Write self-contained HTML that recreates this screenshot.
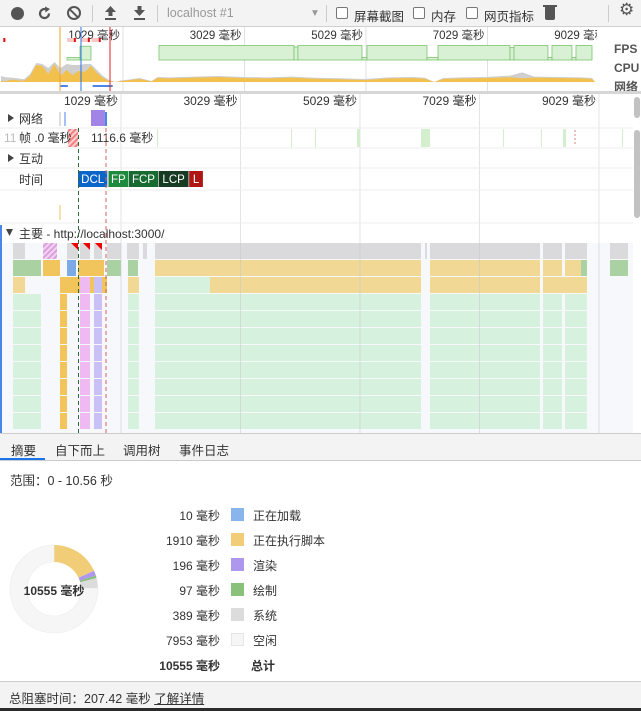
<!DOCTYPE html>
<html><head><meta charset="utf-8">
<style>
*{margin:0;padding:0;box-sizing:border-box}
body{width:641px;height:711px;overflow:hidden;background:#fff;font-family:"Liberation Sans","Noto Sans CJK SC",sans-serif;font-size:12px;color:#333;position:relative}
.abs{position:absolute}
#toolbar{left:0;top:0;width:641px;height:27px;background:#f3f3f3;border-bottom:1px solid #d0d0d0}
.ico{position:absolute;top:6px;color:#555;font-size:14px;line-height:14px}
.sep{position:absolute;top:5px;width:1px;height:17px;background:#ccc}
.cb{position:absolute;top:7px;width:12px;height:12px;border:1px solid #777;border-radius:2px;background:#fff}
.tl{position:absolute;top:6px;font-size:12.5px;color:#333}
#tabs{left:0;top:433px;width:641px;height:28px;background:#f3f3f3;border-top:1px solid #ccc;border-bottom:1px solid #ccc}
.tab{position:absolute;top:6px;font-size:12.5px;color:#333}
.lg{position:absolute;font-size:12px;color:#333;white-space:nowrap}
.val{position:absolute;width:80px;text-align:right;left:140px;white-space:nowrap}
.sw{position:absolute;left:231px;width:13px;height:13px}
#footer{left:0;top:681px;width:641px;height:27px;background:#f3f3f3;border-top:1px solid #ccc}
</style></head><body>

<svg id="chart" class="abs" style="left:0;top:0" width="641" height="433"></svg>

<div id="toolbar" class="abs">
  <div class="abs" style="left:11px;top:7px;width:13px;height:13px;border-radius:50%;background:#555"></div>
  <svg class="abs" style="left:37px;top:6px" width="15" height="15"><path d="M12,7.5 A4.5,4.5 0 1 1 9.5,3.5" fill="none" stroke="#555" stroke-width="2.2"/><path d="M8,0.5 L13,3 L8.5,6.5Z" fill="#555"/></svg>
  <div class="abs" style="left:67px;top:6px;width:14px;height:14px;border:2px solid #555;border-radius:50%"><div class="abs" style="left:4px;top:-1px;width:2px;height:13px;background:#555;transform:rotate(-45deg)"></div></div>
  <div class="sep" style="left:92px"></div>
  <svg class="abs" style="left:104px;top:6px" width="13" height="15"><path d="M6.5,0 L12,6 L8.5,6 L8.5,10 L4.5,10 L4.5,6 L1,6Z" fill="#555"/><rect x="1" y="12" width="11" height="2" fill="#555"/></svg>
  <svg class="abs" style="left:133px;top:6px" width="13" height="15"><path d="M6.5,10 L12,4 L8.5,4 L8.5,0 L4.5,0 L4.5,4 L1,4Z" fill="#555"/><rect x="1" y="12" width="11" height="2" fill="#555"/></svg>
  <div class="sep" style="left:157px"></div>
  <div class="tl" style="left:167px;color:#999">localhost #1</div>
  <div class="tl" style="left:310px;color:#999;font-size:10px;top:8px">▼</div>
  <div class="sep" style="left:326px"></div>
  <div class="cb" style="left:336px"></div><div class="tl" style="left:354px">屏幕截图</div>
  <div class="cb" style="left:413px"></div><div class="tl" style="left:431px">内存</div>
  <div class="cb" style="left:466px"></div><div class="tl" style="left:484px">网页指标</div>
  <div class="abs" style="left:545px;top:7px;width:10px;height:13px;background:#555;border-radius:0 0 2px 2px"></div>
  <div class="abs" style="left:543px;top:5px;width:14px;height:2px;background:#555"></div>
  <div class="sep" style="left:608px"></div>
  <div class="ico" style="left:619px;font-size:17px;top:3px">⚙</div>
</div>

<div id="tabs" class="abs">
  <div class="tab" style="left:11px">摘要</div>
  <div class="abs" style="left:0;top:24px;width:45px;height:2px;background:#1a73e8"></div>
  <div class="tab" style="left:55px">自下而上</div>
  <div class="tab" style="left:123px">调用树</div>
  <div class="tab" style="left:179px">事件日志</div>
</div>

<div class="abs" style="left:10px;top:470px;font-size:12.5px">范围：0 - 10.56 秒</div>

<svg class="abs" style="left:0;top:540px" width="110" height="100" id="donut"></svg>
<div class="abs" style="left:14px;top:582px;width:80px;text-align:center;font-weight:bold;font-size:12px;white-space:nowrap">10555 毫秒</div>

<div id="legend"></div>

<div id="footer" class="abs">
  <div class="abs" style="left:9px;top:6px;font-size:12.5px">总阻塞时间：207.42 毫秒 <span style="text-decoration:underline">了解详情</span></div>
</div>
<div class="abs" style="left:0;top:708px;width:641px;height:3px;background:#2b2b2b"></div>

<script>
// ---- data ----
const tickLabels = ["1029 毫秒","3029 毫秒","5029 毫秒","7029 毫秒","9029 毫秒"];
const tickTimes = [1029,3029,5029,7029,9029];
const fpsStart = [107,321,1621,3844,3909,4963,5045,6033,6214,7399,7465,8024,8090,8419,8485];
const fpsEnd   = [321,502,3844,3909,4963,5045,6033,6214,7399,7465,8024,8090,8419,8485,8749];
const fpsValues= [10,55,58,52,58,10,58,10,58,50,58,10,58,10,58];
const cpuTimes = [-980,-900,-800,-700,-600,-500,-400,-300,-200,-100,0,100,200,300,400,500,600,700,800,900,1000,1100,1300,1500,1600,1800,2200,2600,3000,3400,3800,4200,4600,5000,5400,5800,6000,6150,6300,6600,7000,7400,7600,7800,8200,8600,8750,8800];
const cpuScript= [5,4,12,8,6,30,85,80,40,90,30,60,35,55,50,80,45,20,5,0,5,8,15,3,20,18,22,25,20,18,22,16,14,10,18,20,16,0,15,18,20,24,18,22,20,18,15,0];
const cpuOther = [25,20,10,10,8,10,10,10,30,10,40,30,50,30,40,10,15,10,5,0,3,3,5,2,5,5,5,5,5,5,5,5,5,5,5,5,5,0,5,5,5,8,30,5,5,5,5,0];
const frameStart = [1632,3875,4276,4979,6050,7422,8058,8427,9414];
const frameEnd   = [1650,3890,4290,5029,6201,7437,8073,8477,9430];
const networkStart = [527];
const networkEnd = [761];
const markerNames = ["DCL","FP","FCP","LCP","L"];
const row0 = [[-778,-577,'sys'],[-276,-42,'hatch'],[126,310,'sys'],[343,510,'sys'],[577,711,'sys'],[795,1029,'sys'],[1130,1330,'sys'],[1397,1464,'sys'],[1598,6050,'sys'],[6117,6150,'sys'],[6201,8042,'sys'],[8092,8410,'sys'],[8460,8828,'sys'],[9213,9514,'sys']];
const row1 = [[-778,-310,'paint'],[-276,8,'script'],[126,276,'load'],[310,745,'script'],[795,1029,'paint'],[1146,1314,'paint'],[1598,6050,'scriptL'],[6201,8042,'scriptL'],[8092,8410,'scriptL'],[8460,8728,'scriptL'],[8728,8828,'paint'],[9213,9514,'paint']];
const row2 = [[-778,-577,'scriptL'],[8,343,'script'],[343,510,'pink'],[510,577,'script'],[577,711,'lav'],[711,795,'script'],[1146,1330,'scriptL'],[1598,2519,'idleG'],[2519,6050,'scriptL'],[6201,8042,'scriptL'],[8092,8828,'scriptL']];
const rowRest = [[-778,-310,'idleG'],[8,126,'script'],[343,510,'pink'],[577,711,'lav'],[1146,1330,'idleG'],[1598,6050,'idleG'],[6201,8042,'idleG'],[8092,8410,'idleG'],[8460,8828,'idleG']];
const donutLabels = ["正在加载","正在执行脚本","渲染","绘制","系统","空闲"];
const donutValues = [10,1910,196,97,389,7953];
const donutColors = ["#8ab4ec","#f1cd78","#ad98ee","#88c07c","#dcdcdc","#f6f6f6"];

// ---- scales ----
const xo = t => 60.5 + t*0.06075;   // overview
const xm = t => 59.5 + t*0.05975;   // main
const NS="http://www.w3.org/2000/svg";
const svg=document.getElementById('chart');
function el(tag,attrs,parent){const e=document.createElementNS(NS,tag);for(const k in attrs)e.setAttribute(k,attrs[k]);(parent||svg).appendChild(e);return e;}
const colors={sys:'#dadadd',paint:'#a9d1a1',script:'#f2c55c',scriptL:'#f1d894',load:'#7baae6',idleG:'#d6f2de',pink:'#efbaf2',lav:'#c9c1f5',hatch:'#e7c1e8'};

const defs=el('defs',{});
const pat=el('pattern',{id:'hp',width:4,height:4,patternUnits:'userSpaceOnUse',patternTransform:'rotate(45)'},defs);
el('rect',{width:4,height:4,fill:'#f5d3f0'},pat);el('rect',{width:2,height:4,fill:'#d9a0de'},pat);
const pat2=el('pattern',{id:'hr',width:4,height:4,patternUnits:'userSpaceOnUse',patternTransform:'rotate(45)'},defs);
el('rect',{width:4,height:4,fill:'#fbd0d0'},pat2);el('rect',{width:2,height:4,fill:'#f08080'},pat2);

el('rect',{x:0,y:27,width:641,height:66,fill:'#fff'});
tickTimes.forEach((t,i)=>{
  const g=el('line',{x1:xo(t),x2:xo(t),y1:27,y2:92,stroke:'#e2e2e2'});
  
  
  const tx=el('text',{x:xo(t)-3,y:39,'text-anchor':'end','font-size':11.5,fill:'#333'});
  tx.textContent=tickLabels[i];
  
  
});
const fy=v=>60-v/60*15;
fpsValues.forEach((v,i)=>{
  const r=el('rect',{x:xo(fpsStart[i]),y:fy(v),width:xo(fpsEnd[i])-xo(fpsStart[i]),height:60-fy(v),fill:'#d8f0d4',stroke:'#7cc56f','stroke-width':0.8});
  
  
});
[[-945,-930],[107,230],[330,460],[510,640]].forEach(s=>el('rect',{x:xo(s[0]),y:38,width:xo(s[1])-xo(s[0]),height:4,fill:'#f9c8c8'}));
[-940,220,450,630].forEach(t=>el('rect',{x:xo(t),y:38,width:2,height:4,fill:'#e01010'}));
const cy=v=>82-v/100*20;
let pO='M'+xo(cpuTimes[0])+',82 ', pS=pO;
cpuTimes.forEach((t,i)=>{pO+='L'+xo(t)+','+cy(cpuScript[i]+cpuOther[i])+' ';pS+='L'+xo(t)+','+cy(cpuScript[i])+' ';});
pO+='L'+xo(cpuTimes[cpuTimes.length-1])+',82Z';pS+='L'+xo(cpuTimes[cpuTimes.length-1])+',82Z';
const ao=el('path',{d:pO,fill:'#cfcfcf'});


const as=el('path',{d:pS,fill:'#f2c04d'});


el('rect',{x:xo(-10),y:85,width:xo(120)-xo(-10),height:2,fill:'#4a86e8'});
el('rect',{x:xo(530),y:85,width:xo(860)-xo(530),height:2,fill:'#4a86e8'});
el('line',{x1:60,x2:60,y1:27,y2:92,stroke:'#f0a020'});
el('line',{x1:81,x2:81,y1:27,y2:92,stroke:'#2a70e0'});
el('line',{x1:110,x2:110,y1:27,y2:92,stroke:'#e02020'});
el('rect',{x:597,y:27,width:44,height:66,fill:'#fff'});
[['FPS',53],['CPU',72],['网络',91]].forEach(a=>{const t=el('text',{x:614,y:a[1],'font-size':12,'font-weight':'bold',fill:'#555'});t.textContent=a[0];});
el('rect',{x:0,y:91,width:641,height:3,fill:'#d6d6d6'});

el('rect',{x:0,y:94,width:641,height:339,fill:'#fff'});
tickTimes.forEach((t,i)=>{
  const g=el('line',{x1:xm(t),x2:xm(t),y1:94,y2:433,stroke:'#e4e4e4'});
  
  
  const tx=el('text',{x:xm(t)-3,y:105,'text-anchor':'end','font-size':12,fill:'#333'});
  tx.textContent=tickLabels[i];
  
  
});
[128,148,168,190,223].forEach(y=>el('line',{x1:0,x2:633,y1:y,y2:y,stroke:'#ececec'}));
function lbl(txt,x,y,tri,name){const t=el('text',{x:x,y:y,'font-size':12,fill:'#333'});t.textContent=txt;if(tri)el('path',{d:`M${x-11},${y-9} L${x-5},${y-5} L${x-11},${y-1}Z`,fill:'#444'});}
lbl('网络',19,123,true,'network-track');lbl('互动',19,163,true,'interactions-track');lbl('时间',19,184,false,'timings-track');
networkStart.forEach((t,i)=>{
  const r=el('rect',{x:xm(t),y:110,width:xm(networkEnd[i])-xm(t),height:16,fill:'#a184e6'});
  
  
});
el('line',{x1:65,x2:65,y1:112,y2:126,stroke:'#4a86e8'});el('line',{x1:106,x2:106,y1:112,y2:126,stroke:'#4a86e8','stroke-width':2});
el('line',{x1:60,x2:60,y1:112,y2:126,stroke:'#bbb'});
frameStart.forEach((t,i)=>{const r=el('rect',{x:xm(t),y:129,width:Math.max(1,xm(frameEnd[i])-xm(t)),height:18,fill:'#d4efcd'});});
el('rect',{x:xm(140),y:129,width:xm(310)-xm(140),height:18,fill:'url(#hr)'});
const ft1=el('text',{x:4,y:142,'font-size':12,fill:'#bbb'});ft1.textContent='11';
const ft=el('text',{x:19,y:142,'font-size':12,fill:'#333'});ft.textContent='帧 .0 毫秒';
const ft2=el('text',{x:91,y:142,'font-size':12,fill:'#333'});ft2.textContent='1116.6 毫秒';
el('line',{x1:575,x2:575,y1:130,y2:146,stroke:'#e08080','stroke-dasharray':'2,2'});
const mColors=['#0b64c8','#1e8a3e','#176b30','#173a23','#b01515'];
const mStart=[310,820,1160,1660,2170];const mEnd=[800,1150,1650,2160,2400];
markerNames.forEach((n,i)=>{
  const g=el('g',{});
  
  
  el('rect',{x:xm(mStart[i]),y:171,width:xm(mEnd[i])-xm(mStart[i]),height:16,fill:mColors[i]},g);
  const t=el('text',{x:(xm(mStart[i])+xm(mEnd[i]))/2,y:183,'text-anchor':'middle','font-size':11.5,fill:'#fff'},g);t.textContent=n;
});
el('line',{x1:60,x2:60,y1:205,y2:220,stroke:'#f0c060'});
el('path',{d:'M6,229 L13,229 L9.5,236Z',fill:'#444'});
const mh=el('text',{x:19,y:238,'font-size':12,fill:'#333'});mh.textContent='主要 - http://localhost:3000/';

el('rect',{x:0,y:225,width:2,height:208,fill:'#4a86e8'});
el('rect',{x:2,y:243,width:631,height:190,fill:'#f7f8fc'});
const rowsData=[row0,row1,row2,rowRest,rowRest,rowRest,rowRest,rowRest,rowRest,rowRest,rowRest];
rowsData.forEach((row,ri)=>{
  const y=243+ri*17;
  row.forEach(s=>{
    const r=el('rect',{x:xm(s[0]),y:y,width:xm(s[1])-xm(s[0]),height:16,fill:s[2]==='hatch'?'url(#hp)':colors[s[2]]});
    
    
  });
});
[310,510,711].forEach(t=>el('path',{d:`M${xm(t)-7},243 L${xm(t)},243 L${xm(t)},250Z`,fill:'#e00'}));
tickTimes.forEach(t=>el('line',{x1:xm(t),x2:xm(t),y1:243,y2:433,stroke:'#ccc','stroke-opacity':0.6}));
el('line',{x1:78.5,x2:78.5,y1:128,y2:433,stroke:'#2b6a3a','stroke-dasharray':'4,3'});
el('line',{x1:106,x2:106,y1:128,y2:433,stroke:'#d06060','stroke-dasharray':'4,3'});
el('rect',{x:633,y:94,width:8,height:339,fill:'#fff'});
el('rect',{x:634,y:97,width:6,height:21,rx:3,fill:'#c2c2c2'});
el('rect',{x:634,y:130,width:6,height:88,rx:3,fill:'#c2c2c2'});

const dsvg=document.getElementById('donut');
const total=donutValues.reduce((a,b)=>a+b,0);
const cx=54,cyy=49,R=44,r=27;let ang=0;
donutValues.forEach((v,i)=>{
  const a0=ang,a1=ang+v/total*2*Math.PI;ang=a1;
  const p=(a,rad)=>[cx+rad*Math.sin(a),cyy-rad*Math.cos(a)];
  const [x0,y0]=p(a0,R),[x1,y1]=p(a1,R),[x2,y2]=p(a1,r),[x3,y3]=p(a0,r);
  const lg=(a1-a0)>Math.PI?1:0;
  const path=document.createElementNS(NS,'path');
  path.setAttribute('d',`M${x0},${y0} A${R},${R} 0 ${lg} 1 ${x1},${y1} L${x2},${y2} A${r},${r} 0 ${lg} 0 ${x3},${y3}Z`);
  path.setAttribute('fill',donutColors[i]);
  if(i===5){path.setAttribute('stroke','#ececec');path.setAttribute('stroke-width','0.6');}
  
  
  dsvg.appendChild(path);
});
const leg=document.getElementById('legend');
donutValues.forEach((v,i)=>{
  const y=507+i*25;
  const d=document.createElement('div');d.className='lg';d.style.top=y+'px';d.style.left='0px';
  
  
  d.innerHTML=`<div class="val">${v} 毫秒</div><div class="sw" style="top:1px;background:${donutColors[i]};${i===5?'border:1px solid #e6e6e6':''}"></div><div class="abs" style="left:253px;white-space:nowrap">${donutLabels[i]}</div>`;
  leg.appendChild(d);
});
const tot=document.createElement('div');tot.className='lg';tot.style.top='657px';tot.style.left='0px';


tot.innerHTML=`<div class="val" style="font-weight:bold">${total} 毫秒</div><div class="abs" style="left:251px;font-weight:bold;white-space:nowrap">总计</div>`;
leg.appendChild(tot);
</script>
</body></html>
